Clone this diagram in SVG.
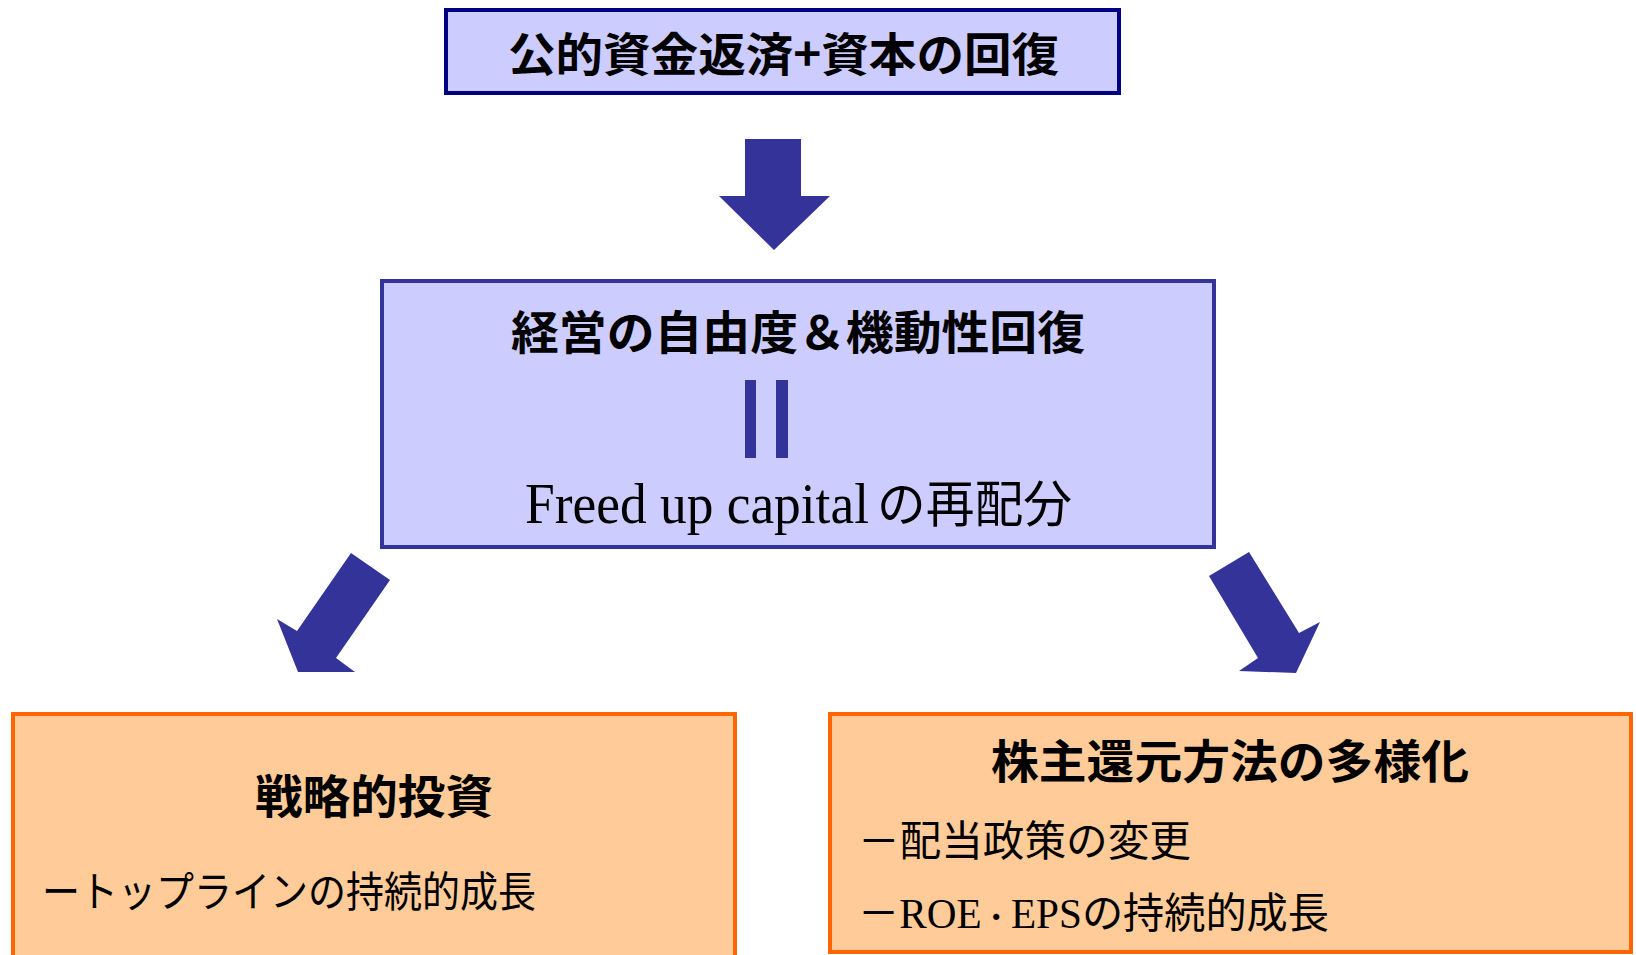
<svg xmlns="http://www.w3.org/2000/svg" width="1636" height="955" viewBox="0 0 1636 955">
<style>
.blue{fill:#CCCCFF;stroke:#333399;stroke-width:4}
.navy{fill:#CCCCFF;stroke:#000080;stroke-width:4}
.orange{fill:#FFCC99;stroke:#FF6600;stroke-width:4}
.arrow{fill:#333399}
.hb{font-family:"Noto Sans CJK JP","Liberation Sans",sans-serif;font-weight:700;fill:#000}
.r{font-family:"Noto Sans CJK JP","Liberation Sans",sans-serif;font-weight:400;fill:#000}
.ser{font-family:"Liberation Serif","Noto Sans CJK JP",serif;font-weight:400;fill:#000}
</style>
<rect width="1636" height="955" fill="#fff"/>
<g id="top">
<rect class="navy" x="446" y="10" width="673" height="83"/>
<text class="hb" x="508" y="71" font-size="46" textLength="551" lengthAdjust="spacingAndGlyphs">公的資金返済+資本の回復</text>
</g>
<g id="middle">
<rect class="blue" x="382" y="281" width="832" height="266"/>
<text class="hb" x="511" y="349" font-size="46" textLength="574" lengthAdjust="spacingAndGlyphs">経営の自由度＆機動性回復</text>
<rect class="arrow" x="745" y="380" width="11" height="78"/>
<rect class="arrow" x="776" y="380" width="12" height="78"/>
<text class="ser" x="525" y="523" font-size="57" textLength="344" lengthAdjust="spacingAndGlyphs">Freed up capital</text>
<text class="r" x="877" y="522" font-size="50" textLength="195" lengthAdjust="spacingAndGlyphs">の再配分</text>
</g>
<g id="left">
<rect class="orange" x="13" y="714" width="722" height="260"/>
<text class="hb" x="255" y="813" font-size="46" textLength="238" lengthAdjust="spacingAndGlyphs">戦略的投資</text>
<text class="r" x="42" y="907" font-size="42" textLength="494" lengthAdjust="spacingAndGlyphs">ートップラインの持続的成長</text>
</g>
<g id="right">
<rect class="orange" x="830" y="714" width="801" height="238"/>
<text class="hb" x="991" y="778" font-size="46" textLength="478" lengthAdjust="spacingAndGlyphs">株主還元方法の多様化</text>
<text class="r" x="858" y="856" font-size="42" textLength="333" lengthAdjust="spacingAndGlyphs">－配当政策の変更</text>
<text class="r" x="858" y="928" font-size="42" textLength="471" lengthAdjust="spacingAndGlyphs">－<tspan font-family="Liberation Serif, serif">ROE</tspan><tspan font-size="30">・</tspan><tspan font-family="Liberation Serif, serif">EPS</tspan>の持続的成長</text>
</g>
<g id="connectors">
<polygon class="arrow" points="745,139 801,139 801,196 830,196 774,250 719,196 745,196"/>
<polygon class="arrow" points="351,553 390,580 336,658 355,672 298,672 277,619 297,631"/>
<polygon class="arrow" points="1209,576 1249,552 1299,633 1320,622 1296,673 1239,671 1258,658"/>
</g>
</svg>
